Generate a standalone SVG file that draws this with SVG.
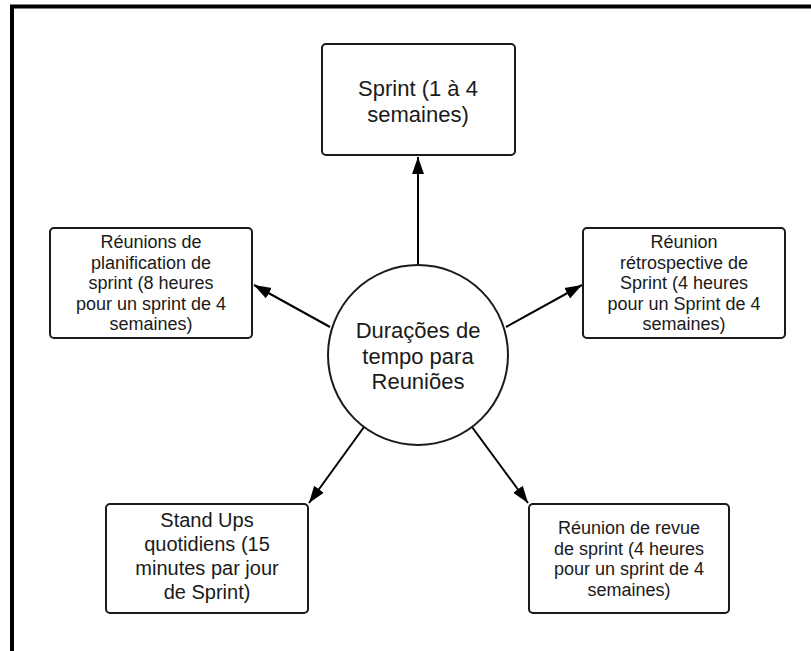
<svg xmlns="http://www.w3.org/2000/svg" width="811" height="651" viewBox="0 0 811 651">
  <style>
    .box { fill: #ffffff; stroke: #1a1a1a; stroke-width: 2; }
    .hub { fill: #ffffff; stroke: #1a1a1a; stroke-width: 2; }
    .label { font-family: "Liberation Sans", Arial, sans-serif; fill: #1a1a1a; text-anchor: middle; }
    .big { font-size: 22px; }
    .mid { font-size: 20px; }
    .small { font-size: 18px; }
    .edge { stroke: #000000; stroke-width: 2; fill: none; marker-end: url(#arrow); }
  </style>
  <defs>
    <marker id="arrow" markerUnits="userSpaceOnUse" markerWidth="18" markerHeight="14" viewBox="0 0 18 14" refX="17" refY="7" orient="auto">
      <path d="M0,1 L17,7 L0,13 Z" fill="#000000"/>
    </marker>
  </defs>

  <rect width="811" height="651" fill="#ffffff"/>
  <!-- frame: top and left edges only -->
  <path d="M12,651 V6.5 H811" fill="none" stroke="#000000" stroke-width="4"/>

  <g id="connectors">
    <line class="edge" x1="418" y1="265" x2="418" y2="157"/>
    <line class="edge" x1="330" y1="327" x2="254" y2="285"/>
    <line class="edge" x1="506" y1="327" x2="582" y2="285"/>
    <line class="edge" x1="364" y1="427" x2="309" y2="503"/>
    <line class="edge" x1="472" y1="427" x2="528" y2="503"/>
  </g>

  <g id="hub">
    <circle class="hub" cx="418" cy="355" r="90"/>
    <text class="label big" x="418" y="338">Durações de</text>
    <text class="label big" x="418" y="363.5">tempo para</text>
    <text class="label big" x="418" y="389">Reuniões</text>
  </g>

  <g id="sprint">
    <rect class="box" x="322" y="44" width="193" height="111" rx="4"/>
    <text class="label big" x="418" y="95.5">Sprint (1 à 4</text>
    <text class="label big" x="418" y="121.5">semaines)</text>
  </g>

  <g id="planning">
    <rect class="box" x="50" y="228" width="202" height="110" rx="4"/>
    <text class="label small" x="151" y="248">Réunions de</text>
    <text class="label small" x="151" y="268.5">planification de</text>
    <text class="label small" x="151" y="289">sprint (8 heures</text>
    <text class="label small" x="151" y="309.5">pour un sprint de 4</text>
    <text class="label small" x="151" y="330">semaines)</text>
  </g>

  <g id="retrospective">
    <rect class="box" x="583" y="228" width="202" height="110" rx="4"/>
    <text class="label small" x="684" y="248">Réunion</text>
    <text class="label small" x="684" y="268.5">rétrospective de</text>
    <text class="label small" x="684" y="289">Sprint (4 heures</text>
    <text class="label small" x="684" y="309.5">pour un Sprint de 4</text>
    <text class="label small" x="684" y="330">semaines)</text>
  </g>

  <g id="standups">
    <rect class="box" x="106" y="504" width="202" height="109" rx="4"/>
    <text class="label mid" x="207" y="527">Stand Ups</text>
    <text class="label mid" x="207" y="551">quotidiens (15</text>
    <text class="label mid" x="207" y="575">minutes par jour</text>
    <text class="label mid" x="207" y="599">de Sprint)</text>
  </g>

  <g id="review">
    <rect class="box" x="529" y="504" width="200" height="109" rx="4"/>
    <text class="label small" x="629" y="534">Réunion de revue</text>
    <text class="label small" x="629" y="554.5">de sprint (4 heures</text>
    <text class="label small" x="629" y="575">pour un sprint de 4</text>
    <text class="label small" x="629" y="595.5">semaines)</text>
  </g>
</svg>
